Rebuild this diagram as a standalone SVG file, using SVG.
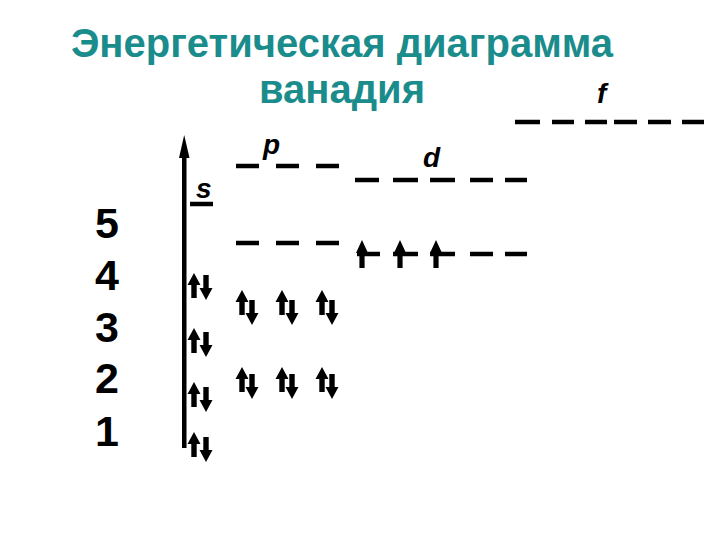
<svg xmlns="http://www.w3.org/2000/svg" xmlns:xlink="http://www.w3.org/1999/xlink" width="720" height="540" viewBox="0 0 720 540">
<style>
.title{font-family:"Liberation Sans",Arial,sans-serif;font-weight:bold;font-size:40px;fill:#1a8c8c;text-anchor:middle}
.num{font-family:"Liberation Sans",Arial,sans-serif;font-weight:bold;font-size:43px;fill:#000;text-anchor:middle}
.lbl{font-family:"Liberation Sans",Arial,sans-serif;font-style:italic;font-weight:bold;font-size:28px;fill:#000}
.lvl{stroke:#000;stroke-width:4.5;fill:none}
</style>
<defs>
<path id="up" d="M0,0 L6.5,12 L2.7,12 L2.7,25 L-2.7,25 L-2.7,12 L-6.5,12 Z" fill="#000"/>
<path id="dn" d="M0,25 L6.5,13 L2.7,13 L2.7,0 L-2.7,0 L-2.7,13 L-6.5,13 Z" fill="#000"/>
<path id="upL" d="M0,0 L6,13 L2.6,13 L2.6,28 L-2.6,28 L-2.6,13 L-6,13 Z" fill="#000"/>
</defs>
<rect width="720" height="540" fill="#fff"/>
<g id="title">
<text class="title" x="342" y="57">Энергетическая диаграмма</text>
<text class="title" x="342" y="103">ванадия</text>
</g>
<g id="axis">
<rect x="182" y="150" width="4.5" height="298" fill="#000"/>
<polygon points="184.2,135 189.5,158 179,158" fill="#000"/>
</g>
<g id="numbers">
<text class="num" x="107" y="238">5</text>
<text class="num" x="107" y="290">4</text>
<text class="num" x="107" y="342">3</text>
<text class="num" x="107" y="393">2</text>
<text class="num" x="107" y="446">1</text>
</g>
<g id="s-levels">
<text class="lbl" x="196" y="198">s</text>
<line class="lvl" x1="190" y1="204" x2="213" y2="204"/>
<use xlink:href="#up" x="194" y="273"/><use xlink:href="#dn" x="206" y="275"/>
<use xlink:href="#up" x="194" y="328"/><use xlink:href="#dn" x="206" y="332"/>
<use xlink:href="#up" x="194" y="382"/><use xlink:href="#dn" x="206" y="387"/>
<use xlink:href="#up" x="194" y="432"/><use xlink:href="#dn" x="206" y="437"/>
</g>
<g id="p-levels">
<text class="lbl" x="263" y="154">p</text>
<line class="lvl" x1="236" y1="166" x2="259" y2="166"/>
<line class="lvl" x1="276" y1="166" x2="299" y2="166"/>
<line class="lvl" x1="316" y1="166" x2="339" y2="166"/>
<line class="lvl" x1="236" y1="243" x2="259" y2="243"/>
<line class="lvl" x1="276" y1="243" x2="299" y2="243"/>
<line class="lvl" x1="316" y1="243" x2="339" y2="243"/>
<use xlink:href="#up" x="242" y="290"/><use xlink:href="#dn" x="252" y="300"/>
<use xlink:href="#up" x="282" y="290"/><use xlink:href="#dn" x="292" y="300"/>
<use xlink:href="#up" x="322" y="290"/><use xlink:href="#dn" x="332" y="300"/>
<use xlink:href="#up" x="242" y="367"/><use xlink:href="#dn" x="252" y="374"/>
<use xlink:href="#up" x="282" y="367"/><use xlink:href="#dn" x="292" y="374"/>
<use xlink:href="#up" x="322" y="367"/><use xlink:href="#dn" x="332" y="374"/>
</g>
<g id="d-levels">
<text class="lbl" x="423" y="167">d</text>
<line class="lvl" x1="355" y1="180" x2="379" y2="180"/>
<line class="lvl" x1="393" y1="180" x2="418" y2="180"/>
<line class="lvl" x1="430" y1="180" x2="455" y2="180"/>
<line class="lvl" x1="470" y1="180" x2="493" y2="180"/>
<line class="lvl" x1="505" y1="180" x2="527" y2="180"/>
<line class="lvl" x1="357" y1="254" x2="380" y2="254"/>
<line class="lvl" x1="393" y1="254" x2="418" y2="254"/>
<line class="lvl" x1="430" y1="254" x2="455" y2="254"/>
<line class="lvl" x1="470" y1="254" x2="493" y2="254"/>
<line class="lvl" x1="505" y1="254" x2="527" y2="254"/>
<use xlink:href="#upL" x="362" y="240"/>
<use xlink:href="#upL" x="400" y="240"/>
<use xlink:href="#upL" x="436" y="240"/>
</g>
<g id="f-levels">
<text class="lbl" x="597" y="103">f</text>
<line class="lvl" x1="515" y1="122" x2="540" y2="122"/>
<line class="lvl" x1="552" y1="122" x2="574" y2="122"/>
<line class="lvl" x1="585" y1="122" x2="607" y2="122"/>
<line class="lvl" x1="614" y1="122" x2="637" y2="122"/>
<line class="lvl" x1="648" y1="122" x2="671" y2="122"/>
<line class="lvl" x1="682" y1="122" x2="704" y2="122"/>
</g>
</svg>
